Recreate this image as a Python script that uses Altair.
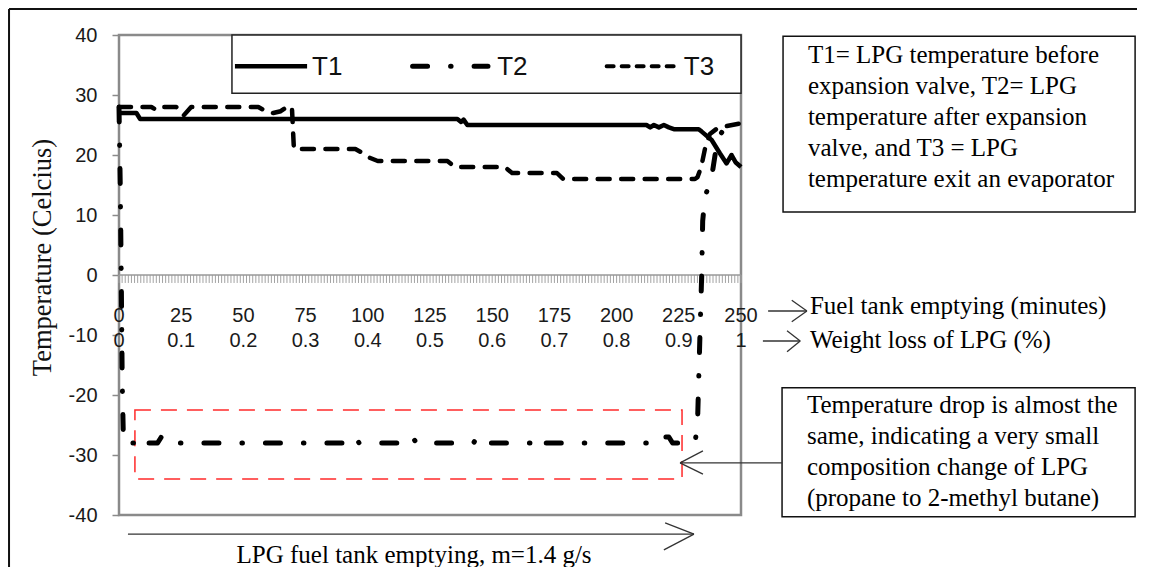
import altair as alt
import pandas as pd

# ---------------- data ----------------
t1_time = [0, 7, 8.5, 136, 137.5, 138.5, 140, 212, 213.5, 215, 217, 219, 221, 223,
           233, 234.2, 238.2, 241.5, 244.2, 246.2, 247.8, 250]
t1_temp = [27, 27, 26, 26, 25.5, 25.9, 25, 25, 24.6, 25, 24.6, 25, 24.6, 24.3,
           24.3, 23.9, 22.5, 20.3, 18.6, 20, 18.8, 18]

t2_time = [0, 0.5, 0.9, 1.3, 1.8, 7, 8, 9.5, 15.5, 17, 18.5, 93.5, 95, 96.5,
           116.5, 118, 119.5, 142.5, 144, 145.5, 168, 169.5, 171, 215, 216.5, 221, 222.5,
           231.5, 232.5, 233.5, 234.2, 234.6, 235.5, 238.2, 240.5, 243, 250]
t2_temp = [28, 15, 0, -18, -28, -28, -27, -28, -28, -27, -28, -28, -27, -28,
           -28, -27, -28, -28, -27, -28, -28, -27, -28, -28, -27, -27, -28,
           -28, -25, -10, 0, 9, 13, 16.3, 22.5, 24.3, 25]

t3_time = [0, 13, 15, 17, 23, 26, 29, 56, 59, 62, 65, 67.5, 69.5, 70.3,
           95, 98, 101, 104, 132, 135, 155, 158, 176, 178.5,
           231.5, 232.5, 234, 235.5, 237.5, 240, 244, 250]
t3_temp = [28, 28, 27.5, 28, 28, 26.6, 28, 28, 27.3, 27, 27.3, 28, 28, 21,
           21, 20.3, 19.5, 19, 19, 18, 18, 17, 17, 16,
           16, 16.3, 18, 21, 23.5, 24.3, 24.8, 25.3]

minute_labels = [0, 25, 50, 75, 100, 125, 150, 175, 200, 225, 250]
weight_labels = ["0", "0.1", "0.2", "0.3", "0.4", "0.5", "0.6", "0.7", "0.8", "0.9", "1"]
y_ticks = [-40, -30, -20, -10, 0, 10, 20, 30, 40]
series_names = ["T1", "T2", "T3"]

box1_text = ("T1= LPG temperature before\nexpansion valve, T2= LPG\n"
             "temperature after expansion\nvalve, and T3 = LPG\n"
             "temperature exit an evaporator")
box2_text = ("Temperature drop is almost the\nsame, indicating a very small\n"
             "composition change of LPG\n(propane to 2-methyl butane)")
axis1_text = "Fuel tank emptying (minutes)"
axis2_text = "Weight loss of LPG (%)"
bottom_text = "LPG fuel tank emptying, m=1.4 g/s"
y_title = "Temperature (Celcius)"

# ---------------- scales ----------------
xs = alt.Scale(domain=[0, 250], nice=False, zero=False)
ys = alt.Scale(domain=[-40, 40], nice=False, zero=False)

y_axis = alt.Axis(values=y_ticks, title=y_title, titleFont="Liberation Serif",
                  titleFontSize=26.5, titleFontWeight="normal", titleColor="#111111",
                  titleAngle=270, titleX=-77, titleY=222, titleAlign="center",
                  titleBaseline="middle", labelExpr="toString(datum.value)",
                  labelFont="Liberation Sans", labelFontSize=20, labelColor="#1a1a1a",
                  labelPadding=15, tickSize=7, tickColor="#8a8a8a", tickWidth=1.5,
                  domain=False, grid=False)


def X(f="x"):
    return alt.X(f"{f}:Q", scale=xs, axis=None)


def Y(f="y"):
    return alt.Y(f"{f}:Q", scale=ys, axis=y_axis)


# ---------------- x axis along zero ----------------
hatch_pos = [i * 1.25 for i in range(201)]
hatch = alt.Chart(pd.DataFrame({"x": hatch_pos, "y": [0] * len(hatch_pos),
                                "y2": [-1.33] * len(hatch_pos)})).mark_rule(
    color="#a3a3a3", strokeWidth=1).encode(x=X(), y=Y(), y2="y2:Q")

zero_line = alt.Chart(pd.DataFrame({"x": [0], "x2": [250], "y": [0]})).mark_rule(
    color="#999999", strokeWidth=1.5).encode(x=X(), x2="x2:Q", y=Y())

lab1 = alt.Chart(pd.DataFrame({"x": minute_labels, "y": [-6.83] * 11,
                               "t": [str(v) for v in minute_labels]})).mark_text(
    font="Liberation Sans", fontSize=20, color="#1a1a1a", align="center",
    baseline="middle").encode(x=X(), y=Y(), text="t:N")
lab2 = alt.Chart(pd.DataFrame({"x": minute_labels, "y": [-11] * 11,
                               "t": weight_labels})).mark_text(
    font="Liberation Sans", fontSize=20, color="#1a1a1a", align="center",
    baseline="middle").encode(x=X(), y=Y(), text="t:N")

# ---------------- red dashed region ----------------
red_box = alt.Chart(pd.DataFrame({"x": [6.4], "x2": [226.3], "y": [-22.5], "y2": [-34]})).mark_rect(
    fill="transparent", stroke="#ff2a2a", strokeWidth=1.5, strokeDash=[16, 10]).encode(
    x=X(), x2="x2:Q", y=Y(), y2="y2:Q")

# ---------------- series ----------------
line_t1 = alt.Chart(pd.DataFrame({"x": t1_time, "y": t1_temp})).mark_line(
    color="black", strokeWidth=4.5, strokeJoin="round").encode(x=X(), y=Y())
line_t2 = alt.Chart(pd.DataFrame({"x": t2_time, "y": t2_temp})).mark_line(
    color="black", strokeWidth=5, strokeCap="round", strokeJoin="round",
    strokeDash=[15, 23, 0.5, 23]).encode(x=X(), y=Y())
line_t3 = alt.Chart(pd.DataFrame({"x": t3_time, "y": t3_temp})).mark_line(
    color="black", strokeWidth=4.5, strokeCap="round", strokeJoin="round",
    strokeDash=[12, 11.5]).encode(x=X(), y=Y())

# ---------------- legend ----------------
leg_box = alt.Chart(pd.DataFrame({"x": [45.4], "x2": [250], "y": [40], "y2": [30.3]})).mark_rect(
    fill="white", stroke="#222222", strokeWidth=1.5).encode(x=X(), x2="x2:Q", y=Y(), y2="y2:Q")
leg_t1 = alt.Chart(pd.DataFrame({"x": [46.6, 75.6], "y": [34.8, 34.8]})).mark_line(
    color="black", strokeWidth=4.5).encode(x=X(), y=Y())
leg_t2 = alt.Chart(pd.DataFrame({"x": [118, 148.3], "y": [34.8, 34.8]})).mark_line(
    color="black", strokeWidth=5, strokeCap="round", strokeDash=[15, 23, 0.5, 23]).encode(x=X(), y=Y())
leg_t3 = alt.Chart(pd.DataFrame({"x": [196, 225.5], "y": [34.8, 34.8]})).mark_line(
    color="black", strokeWidth=4, strokeCap="round", strokeDash=[7, 8]).encode(x=X(), y=Y())
leg_txt = alt.Chart(pd.DataFrame({"x": [77.6, 152, 227], "y": [34.6] * 3,
                                  "t": series_names})).mark_text(
    font="Liberation Sans", fontSize=26, color="#111111", align="left",
    baseline="middle").encode(x=X(), y=Y(), text="t:N")

# ---------------- annotation boxes and texts ----------------
boxes = alt.Chart(pd.DataFrame({"x": [266.9, 266.5], "x2": [408.4, 408.4],
                                "y": [39.8, -18.8], "y2": [10.5, -40.3]})).mark_rect(
    fill="white", stroke="#111111", strokeWidth=1.5).encode(x=X(), x2="x2:Q", y=Y(), y2="y2:Q")

serif = dict(font="Liberation Serif", fontSize=25, color="black", lineBreak="\n", lineHeight=31)
box_txt = alt.Chart(pd.DataFrame({"x": [276.9, 276.5], "y": [36.6, -21.7],
                                  "t": [box1_text, box2_text]})).mark_text(
    align="left", baseline="middle", **serif).encode(x=X(), y=Y(), text="t:N")
side_txt = alt.Chart(pd.DataFrame({"x": [277.7, 277.7], "y": [-5.1, -10.8],
                                   "t": [axis1_text, axis2_text]})).mark_text(
    align="left", baseline="middle", **serif).encode(x=X(), y=Y(), text="t:N")
bot_txt = alt.Chart(pd.DataFrame({"x": [118.6], "y": [-46.6], "t": [bottom_text]})).mark_text(
    align="center", baseline="middle", **serif).encode(x=X(), y=Y(), text="t:N")

# arrows (shaft + two head strokes each)
arrows = pd.DataFrame({
    "x":  [260.9, 270.4, 270.4, 258.8, 268.5, 268.5, 266.5, 234.7, 234.7, 3.6, 219.5, 219.0],
    "y":  [-6.0, -4.2, -7.8, -11.0, -9.3, -12.8, -31.3, -29.3, -33.2, -43.2, -41.3, -45.8],
    "x2": [276.5, 276.5, 276.5, 273.8, 273.8, 273.8, 225.5, 225.5, 225.5, 231.1, 231.1, 231.1],
    "y2": [-6.0, -6.0, -6.0, -11.0, -11.0, -11.0, -31.3, -31.3, -31.3, -43.2, -43.2, -43.2],
})
arrow_marks = alt.Chart(arrows).mark_rule(color="#333333", strokeWidth=1.3).encode(
    x=X(), y=Y(), x2="x2:Q", y2="y2:Q")

# outer frame (top and left edges of the figure)
frame_top = alt.Chart(pd.DataFrame({"x": [-44.2], "x2": [413], "y": [44.33]})).mark_rule(
    color="#111111", strokeWidth=2).encode(x=X(), x2="x2:Q", y=Y())
frame_left = alt.Chart(pd.DataFrame({"x": [-44.2], "y": [44.33], "y2": [-60]})).mark_rule(
    color="#111111", strokeWidth=2).encode(x=X(), y=Y(), y2="y2:Q")

chart = alt.layer(
    hatch, zero_line, lab1, lab2, red_box, line_t3, line_t1, line_t2,
    leg_box, leg_t1, leg_t2, leg_t3, leg_txt,
    boxes, box_txt, side_txt, bot_txt, arrow_marks, frame_top, frame_left,
).properties(
    width=622, height=480,
    autosize=alt.AutoSizeParams(type="none"),
    padding={"left": 111, "top": 27, "right": 396, "bottom": 52},
    background="white",
).configure_view(stroke="#8a8a8a", strokeWidth=2.5)

chart.save("out.html", embed_options={"renderer": "svg", "actions": False})
